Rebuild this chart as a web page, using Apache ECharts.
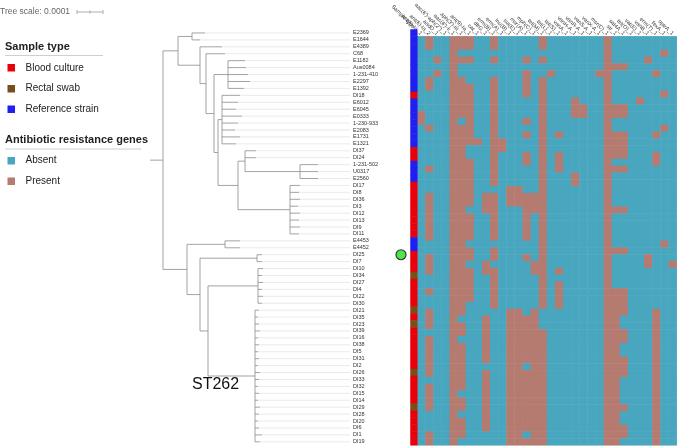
<!DOCTYPE html>
<html><head><meta charset="utf-8">
<script src="https://cdn.jsdelivr.net/npm/echarts@6/dist/echarts.min.js"></script>
<style>html,body{margin:0;padding:0;background:#fff}#c{width:683px;height:446px}</style>
</head><body><div id="c"></div>
<script>
// ---------------- DATA ----------------
const leaves = ["E2369","E1644","E4389","C68","E1182","Aus0084","1-231-410","E2297","E1392","DI18",
"E6012","E6045","E0333","1-230-933","E2083","E1731","E1321","DI37","DI24","1-231-502",
"U0317","E2560","DI17","DI8","DI36","DI3","DI12","DI13","DI9","DI11",
"E4453","E4452","DI25","DI7","DI10","DI34","DI27","DI4","DI22","DI30",
"DI21","DI35","DI23","DI39","DI16","DI38","DI5","DI31","DI2","DI26",
"DI33","DI32","DI15","DI14","DI29","DI28","DI20","DI6","DI1","DI19"];
// B = Blood culture, S = Rectal swab, R = Reference strain
const sampleType = ["R","R","R","R","R","R","R","R","R","B",
"R","R","R","R","R","R","R","B","B","R",
"R","R","B","B","B","B","B","B","B","B",
"R","R","B","B","B","S","B","B","B","B",
"S","B","S","B","B","B","B","B","B","S",
"B","B","B","B","S","B","B","B","B","B"];
const sampleTypeNames = ["Blood culture","Rectal swab","Reference strain"];
const genes = ["ant(6)-Ia_1","ant(6)-Ia_2","aadD_1","aac(6')-aph(2'')_1","aac(6')-Ii_1","aph(3')-III_1",
"ant(9)-Ia_1","cat_1","dfrG_1","erm(B)_1","erm(A)_1","lnu(B)_1","lsa(E)_1","msr(A)_1","mph(C)_1",
"tet(M)_1","tet(L)_1","tet(S)_1","vanA_1","vanH-A_1","vanR-A_1","vanS-A_1","vanX-A_1","msr(C)_1",
"str_1","sat4A_1","tet(O)_1","vat(E)_1","vanB_1","erm(T)_1","fexA_1","optrA_1"];
// indices of genes present, one list per isolate (same order as leaves)
const presentGenes = [
[1,4,5,6,9,15,23],[1,4,5,6,9,15,23],[4,23,30],[2,4,5,6,9,13,15,23,28],[4,23,24,25],
[2,4,13,16,22,23,29],[1,4,5,9,13,15,23],[1,4,5,6,9,13,15,23],[4,5,6,9,13,15,23,30],[4,5,6,9,15,19,23,27],
[4,5,6,9,15,19,20,23,24,25],[0,4,5,6,9,15,19,20,23,24,25],[0,4,6,9,13,15,23],[1,4,5,6,9,15,23,30],[4,5,6,9,13,15,17,23,24,25,29],
[4,5,6,7,9,10,15,23,24,25],[4,5,9,10,15,23,24,25],[4,5,9,13,15,17,23,24,25,29],[4,5,6,9,13,15,17,23,29],[1,4,5,6,9,15,17,23,24,25],
[4,5,6,9,15,19,23],[4,5,6,9,15,19,23],[4,5,6,11,12,15,23],[1,4,5,6,8,9,11,12,13,14,15,23],[1,4,5,6,8,9,11,12,13,14,15,23],
[1,4,5,8,9,13,14,15,23,24,25],[1,4,5,6,9,13,15,23],[1,4,5,6,9,13,15,23],[1,4,5,6,9,13,15,23],[1,4,5,6,9,13,15,23],
[4,5,15,23,30],[4,5,6,9,15,23,24,25],[1,4,5,6,9,13,15,23,28],[1,4,5,8,14,15,23,28,31],[1,4,5,6,8,9,14,15,17,23],
[4,5,6,9,15,23],[4,5,6,9,15,17,23],[1,4,5,6,9,15,17,23,24,25],[4,5,6,9,15,17,23,24,25],[4,5,9,15,17,23,24,25],
[1,4,5,11,12,14,23,24,25,29],[1,4,8,11,12,13,14,23,24,29],[1,4,5,8,11,12,13,14,23,24,29],[4,5,8,11,12,13,14,15,23,24,25,29],[1,4,8,11,12,13,14,15,23,24,25,29],
[1,4,5,8,11,12,13,14,15,23,24,29],[1,4,5,8,11,12,13,14,15,23,24,29],[1,4,5,8,11,12,13,14,15,23,24,25,29],[1,4,5,11,12,14,15,23,24,25,29],[1,4,5,8,11,12,13,14,15,23,24,25,29],
[4,5,8,11,12,13,14,15,23,24,29],[1,4,5,8,11,12,13,14,15,23,24,29],[1,4,8,11,12,13,14,15,23,24,29],[1,4,5,8,11,12,13,14,15,23,24,29],[1,4,5,8,11,12,13,14,15,23,24,25,29],
[4,8,11,12,13,14,15,23,24,29],[4,5,8,11,12,13,14,15,23,24,29],[4,5,8,11,12,13,14,15,23,24,25,29],[1,4,5,11,12,14,15,23,24,25,29],[1,4,11,12,13,14,15,23,24,29]
];
// Tree: [branchLength, children] for internal nodes, [branchLength, "leaf"] for tips
const tree = [13, [
  [15, [
    [14, [[13,"E2369"],[8,"E1644"]]],
    [22, [
      [22,"E4389"],
      [6, [
        [19,"C68"],
        [8, [
          [14, [[17,"E1182"],[18,"Aus0084"],[20,"1-231-410"],[22,"E2297"],[16,"E1392"]]],
          [4, [
            [4, [[18,"DI18"],[16,"E6012"],[14,"E6045"],[20,"E0333"],[16,"1-230-933"],[13,"E2083"],[18,"E1731"],[14,"E1321"]]],
            [20, [
              [7, [[11,"DI37"],[11,"DI24"],[55, [[18,"1-231-502"],[18,"U0317"],[18,"E2560"]]]]],
              [52, [[10,"DI17"],[9,"DI8"],[10,"DI36"],[8,"DI3"],[10,"DI12"],[9,"DI13"],[10,"DI9"],[9,"DI11"]]]
            ]]
          ]]
        ]]
      ]]
    ]]
  ]],
  [24, [
    [38, [[15,"E4453"],[15,"E4452"]]],
    [13, [
      [57, [[5,"DI25"],[5,"DI7"]]],
      [8, [
        [50, [[5,"DI10"],[4,"DI34"],[5,"DI27"],[4,"DI4"],[5,"DI22"],[4,"DI30"]]],
        [47, [[4,"DI21"],[3,"DI35"],[4,"DI23"],[5,"DI39"],[3,"DI16"],[4,"DI38"],[3,"DI5"],[4,"DI31"],[3,"DI2"],[5,"DI26"],
              [4,"DI33"],[3,"DI32"],[4,"DI15"],[3,"DI14"],[5,"DI29"],[4,"DI28"],[3,"DI20"],[4,"DI6"],[7,"DI1"],[5,"DI19"]]]
      ]]
    ]]
  ]]
]];
const markedLeaf = "DI25";
const cladeLabel = "ST262";

// ---------------- LAYOUT ----------------
const TOP = 29.5, H = 415.8;
const TREE_LEFT = 150, TREE_RIGHT = 350;
const treeMax = TREE_RIGHT - TREE_LEFT;
const segs = [], leaders = [];
function layout(node, x0) {
  const len = node[0], x = x0 + len, body = node[1];
  if (typeof body === "string") {
    const y = leaves.indexOf(body);
    segs.push([x0, y, x, y]);
    leaders.push([x, y, treeMax, y]);
    return y;
  }
  const ys = body.map(ch => layout(ch, x));
  const y = (ys[0] + ys[ys.length - 1]) / 2;
  segs.push([x, ys[0], x, ys[ys.length - 1]]);
  if (len > 0) segs.push([x0, y, x, y]);
  return y;
}
layout(tree, 0);

const COL = {absent:"#49a6bf", present:"#b57b70", B:"#e8000b", S:"#7a4e1a", R:"#1f1ff0"};
const heat = [];
presentGenes.forEach((g, r) => { for (let c = 0; c < genes.length; c++) heat.push([c, r, g.includes(c) ? 1 : 0]); });
const stData = sampleType.map((s, r) => [0, r, ["B","S","R"].indexOf(s)]);

const chart = echarts.init(document.getElementById('c'), null, {renderer:'canvas'});
const lineSeg = (color, w) => function (params, api) {
  const p1 = api.coord([api.value(0), api.value(1)]);
  const p2 = api.coord([api.value(2), api.value(3)]);
  return {type:'line', shape:{x1:p1[0], y1:p1[1], x2:p2[0], y2:p2[1]}, style:{stroke:color, lineWidth:w}};
};
const hideAxis = {axisLine:{show:false}, axisTick:{show:false}, splitLine:{show:false}};
const txt = (x, y, t, o) => ({type:'text', x, y, style:Object.assign({text:t, fill:'#222', fontFamily:'Liberation Sans, Arial', fontSize:10, verticalAlign:'middle'}, o || {})});
const sq = (x, y, c) => ({type:'rect', shape:{x, y, width:7.5, height:7.5}, style:{fill:c}});
const hl = (x1, x2, y) => ({type:'line', shape:{x1, y1:y, x2, y2:y}, style:{stroke:'#cfcfcf', lineWidth:1}});

chart.setOption({
  animation:false,
  grid:[
    {left:TREE_LEFT, top:TOP, width:treeMax, height:H},
    {left:410.5, top:TOP, width:6.8, height:H},
    {left:417.3, top:TOP, width:259.4, height:H},
    {left:396, top:TOP, width:10, height:H}
  ],
  xAxis:[
    Object.assign({type:'value', gridIndex:0, min:0, max:treeMax, show:false}, hideAxis),
    Object.assign({type:'category', gridIndex:1, position:'top', data:['Sample type'],
      axisLabel:{rotate:45, fontSize:5.5, color:'#333', margin:2, interval:0, fontFamily:'Liberation Sans, Arial'}}, hideAxis),
    Object.assign({type:'category', gridIndex:2, position:'top', data:genes,
      axisLabel:{rotate:45, fontSize:5.5, color:'#333', margin:2, interval:0, fontFamily:'Liberation Sans, Arial'}}, hideAxis),
    Object.assign({type:'category', gridIndex:3, data:['m'], show:false}, hideAxis)
  ],
  yAxis:[
    Object.assign({type:'value', gridIndex:0, min:-0.5, max:leaves.length-0.5, inverse:true, show:false}, hideAxis),
    Object.assign({type:'category', gridIndex:0, data:leaves, inverse:true, position:'right',
      axisLabel:{fontSize:5.5, color:'#333', margin:3, align:'left', interval:0, fontFamily:'Liberation Sans, Arial'}}, hideAxis),
    Object.assign({type:'category', gridIndex:1, data:leaves, inverse:true, show:false}, hideAxis),
    Object.assign({type:'category', gridIndex:2, data:leaves, inverse:true, show:false}, hideAxis),
    Object.assign({type:'category', gridIndex:3, data:leaves, inverse:true, show:false}, hideAxis)
  ],
  visualMap:[
    {type:'piecewise', show:false, seriesIndex:2, dimension:2, pieces:[{value:0,color:COL.absent},{value:1,color:COL.present}]},
    {type:'piecewise', show:false, seriesIndex:3, dimension:2, pieces:[{value:0,color:COL.B},{value:1,color:COL.S},{value:2,color:COL.R}]}
  ],
  series:[
    {type:'custom', xAxisIndex:0, yAxisIndex:0, renderItem:lineSeg('#dcdcdc', 0.6), data:leaders, silent:true},
    {type:'custom', xAxisIndex:0, yAxisIndex:0, renderItem:lineSeg('#8c8c8c', 0.8), data:segs, silent:true},
    {type:'heatmap', xAxisIndex:2, yAxisIndex:3, data:heat, itemStyle:{borderWidth:0}},
    {type:'heatmap', xAxisIndex:1, yAxisIndex:2, data:stData, itemStyle:{borderWidth:0}},
    {type:'scatter', xAxisIndex:3, yAxisIndex:4, data:[['m', markedLeaf]], symbolSize:10,
      itemStyle:{color:'#22dd22', borderColor:'#111', borderWidth:1.2}}
  ],
  graphic:[
    txt(0, 12, 'Tree scale: 0.0001', {fontSize:8.5, fill:'#666'}),
    {type:'line', shape:{x1:77, y1:12, x2:103, y2:12}, style:{stroke:'#999', lineWidth:0.8}},
    {type:'line', shape:{x1:77, y1:10, x2:77, y2:14}, style:{stroke:'#999', lineWidth:0.8}},
    {type:'line', shape:{x1:90, y1:10.5, x2:90, y2:13.5}, style:{stroke:'#999', lineWidth:0.8}},
    {type:'line', shape:{x1:103, y1:10, x2:103, y2:14}, style:{stroke:'#999', lineWidth:0.8}},
    txt(5, 46.5, 'Sample type', {fontSize:11, fontWeight:'bold'}),
    hl(5, 103, 55.5),
    sq(7.5, 64, COL.B), txt(25.5, 67.8, sampleTypeNames[0]),
    sq(7.5, 85, COL.S), txt(25.5, 88.5, sampleTypeNames[1]),
    sq(7.5, 105.5, COL.R), txt(25.5, 109, sampleTypeNames[2]),
    txt(5, 139.5, 'Antibiotic resistance genes', {fontSize:11, fontWeight:'bold'}),
    hl(5, 141, 149),
    sq(7.5, 157, COL.absent), txt(25.5, 160.5, 'Absent'),
    sq(7.5, 177.5, COL.present), txt(25.5, 181.5, 'Present'),
    txt(192, 385, cladeLabel, {fontSize:16, fill:'#111'})
  ]
});
</script></body></html>
